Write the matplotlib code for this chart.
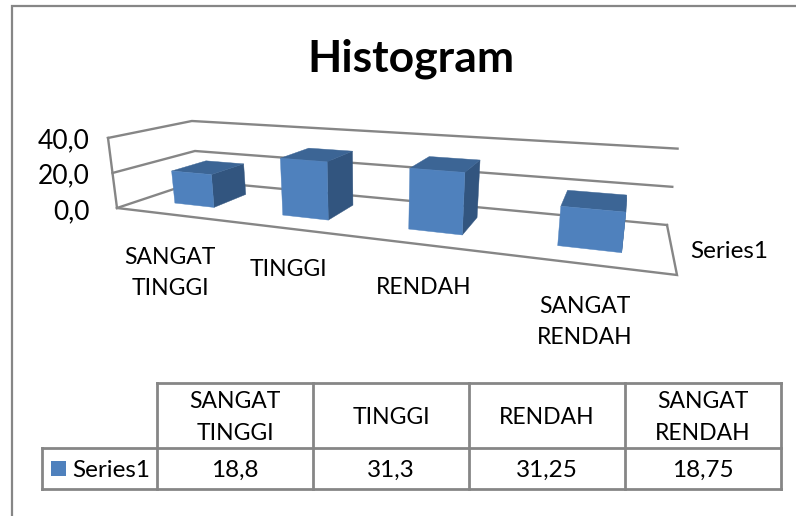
import numpy as np
import matplotlib
matplotlib.use("Agg")
import matplotlib.pyplot as plt
from matplotlib.patches import Polygon, Rectangle

categories = ["SANGAT\nTINGGI", "TINGGI", "RENDAH", "SANGAT\nRENDAH"]
values = [18.8, 31.3, 31.25, 18.75]
axis_ticks = [0, 20, 40]
series_name = "Series1"

GRID = "#868686"
FRONT = "#4F81BD"
TOP = "#3C6595"
SIDE = "#32557F"

plt.rcParams["font.family"] = ["Lato", "DejaVu Sans"]


def homography(quad):
    # unit square (u, v) to pixel quad: front-left, front-right, back-right, back-left
    src = [(0, 0), (1, 0), (1, 1), (0, 1)]
    rows = []
    rhs = []
    for (u, v), (x, y) in zip(src, quad):
        rows.append([u, v, 1, 0, 0, 0, -u * x, -v * x])
        rows.append([0, 0, 0, u, v, 1, -u * y, -v * y])
        rhs += [x, y]
    return np.append(np.linalg.solve(np.array(rows, float), np.array(rhs, float)), 1).reshape(3, 3)


floor = homography([(117, 208), (677, 275), (667, 225), (198, 181)])


def project(u, v, w):
    # u along the categories (0-4), v into the depth (0-1), w the value
    a = floor @ np.array([u / 4, v, 1.0])
    x, y = a[:2] / a[2]
    scale = 0.0093 * (y - 19.7)  # closer to the viewer means taller
    lean = 0.00089 * (x - 370)  # verticals converge below the chart
    return np.array([x + lean * w, y - scale * w])


fig = plt.figure(figsize=(7.96, 5.16), dpi=100)
ax = fig.add_axes([0, 0, 1, 1])
ax.set_xlim(0, 796)
ax.set_ylim(516, 0)
ax.axis("off")

# chart frame, the right and bottom sides are cut off
ax.plot([12, 12, 796], [516, 6, 6], color=GRID, lw=1.6, solid_joinstyle="miter")

# walls and floor
for w in axis_ticks:
    pts = [project(0, 0, w), project(0, 1, w), project(4, 1, w)]
    ax.plot(*zip(*pts), color=GRID, lw=1.7, solid_joinstyle="miter")
ax.plot(*zip(project(0, 0, 0), project(0, 0, axis_ticks[-1])), color=GRID, lw=1.7)
ax.plot(*zip(project(0, 0, 0), project(4, 0, 0), project(4, 1, 0)), color=GRID, lw=1.7,
        solid_joinstyle="miter")

# bars
half_width = 0.19
v0, v1 = 0.28, 0.72
for i, val in enumerate(values):
    u0, u1 = i + 0.52 - half_width, i + 0.52 + half_width
    top = [project(u0, v0, val), project(u1, v0, val), project(u1, v1, val), project(u0, v1, val)]
    side = [project(u1, v0, 0), project(u1, v1, 0), project(u1, v1, val), project(u1, v0, val)]
    front = [project(u0, v0, 0), project(u1, v0, 0), project(u1, v0, val), project(u0, v0, val)]
    ax.add_patch(Polygon(side, fc=SIDE, ec=SIDE, lw=0.3, zorder=3))
    ax.add_patch(Polygon(top, fc=TOP, ec=TOP, lw=0.3, zorder=3))
    ax.add_patch(Polygon(front, fc=FRONT, ec=FRONT, lw=0.3, zorder=4))

# text around the plot
ax.text(411, 59, "Histogram", fontsize=32, fontweight="bold", ha="center", va="center")
tick_y = [212, 176, 141]
for t, y in zip(axis_ticks, tick_y):
    ax.text(90, y, f"{t:.1f}".replace(".", ","), fontsize=19, ha="right", va="center")
label_pos = [(170, 273), (288, 270), (424, 287), (585, 322)]
for cat, (x, y) in zip(categories, label_pos):
    ax.text(x, y, cat, fontsize=16.5, ha="center", va="center", linespacing=1.6)
ax.text(729, 251, series_name, fontsize=17.5, ha="center", va="center")

# data table
col_x = [157, 313, 469, 625, 781]
row_y = [383, 448, 489]
text_shift = 2
ax.plot([col_x[0], col_x[-1]], [row_y[0], row_y[0]], color=GRID, lw=2)
ax.plot([42, col_x[-1]], [row_y[1], row_y[1]], color=GRID, lw=2)
ax.plot([42, col_x[-1]], [row_y[2], row_y[2]], color=GRID, lw=2)
ax.plot([42, 42], [row_y[1], row_y[2]], color=GRID, lw=2)
for x in col_x:
    ax.plot([x, x], [row_y[0], row_y[2]], color=GRID, lw=2)
for i, (cat, val) in enumerate(zip(categories, values)):
    xc = (col_x[i] + col_x[i + 1]) / 2
    ax.text(xc, (row_y[0] + row_y[1]) / 2 + text_shift, cat, fontsize=16.5, ha="center", va="center", linespacing=1.6)
    ax.text(xc, (row_y[1] + row_y[2]) / 2 + text_shift, str(val).replace(".", ","), fontsize=17.5, ha="center", va="center")
ax.add_patch(Rectangle((51, 461), 15, 15, fc=FRONT, ec="none"))
ax.text(72, (row_y[1] + row_y[2]) / 2 + text_shift, series_name, fontsize=17.5, ha="left", va="center")

fig.savefig("out.png", dpi=100)
